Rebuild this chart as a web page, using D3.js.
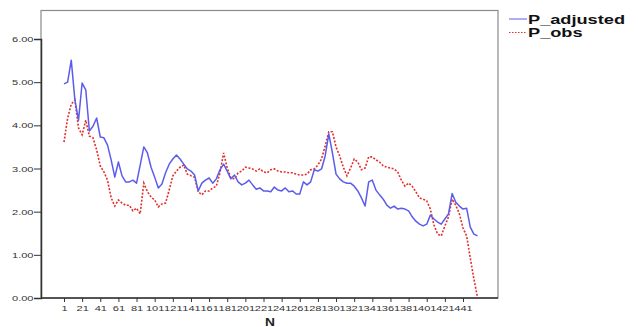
<!DOCTYPE html>
<html>
<head>
<meta charset="utf-8">
<script src="https://cdn.jsdelivr.net/npm/d3@7"></script>
<style>
  body { margin: 0; background: #fff; }
  text { font-family: "Liberation Sans", Arial, sans-serif; }
</style>
</head>
<body>
<div id="chart"></div>
<script>
// case index N, sampled every 4th case
const N = d3.range(1, 458, 4);

const pAdjusted = [
  4.96, 5.00, 5.51, 4.59, 4.12, 4.98, 4.82, 3.87, 3.98, 4.17,
  3.73, 3.71, 3.54, 3.20, 2.80, 3.15, 2.83, 2.69, 2.69, 2.73,
  2.66, 3.08, 3.50, 3.36, 3.03, 2.80, 2.55, 2.64, 2.90, 3.10,
  3.22, 3.31, 3.22, 3.10, 2.99, 2.94, 2.85, 2.48, 2.66, 2.73,
  2.78, 2.66, 2.76, 2.97, 3.10, 2.94, 2.76, 2.85, 2.69, 2.62,
  2.66, 2.73, 2.62, 2.52, 2.55, 2.48, 2.48, 2.46, 2.57, 2.50,
  2.48, 2.55, 2.46, 2.48, 2.41, 2.41, 2.69, 2.62, 2.69, 2.97,
  2.94, 2.99, 3.29, 3.80, 3.36, 2.87, 2.76, 2.69, 2.66, 2.66,
  2.59, 2.48, 2.32, 2.13, 2.69, 2.73, 2.50, 2.39, 2.29, 2.15,
  2.08, 2.13, 2.06, 2.08, 2.06, 2.02, 1.88, 1.78, 1.71, 1.67,
  1.71, 1.92, 1.83, 1.76, 1.71, 1.83, 1.95, 2.42, 2.22, 2.13,
  2.06, 2.08, 1.64, 1.48, 1.44
];

const pObs = [
  3.61, 4.17, 4.49, 4.59, 3.94, 3.78, 4.12, 3.75, 3.71, 3.43,
  3.06, 2.92, 2.73, 2.32, 2.13, 2.27, 2.20, 2.15, 2.15, 2.02,
  2.08, 1.95, 2.66, 2.46, 2.34, 2.27, 2.11, 2.18, 2.20, 2.50,
  2.83, 2.94, 3.03, 3.08, 2.87, 2.83, 2.80, 2.46, 2.39, 2.48,
  2.48, 2.55, 2.59, 2.90, 3.36, 3.01, 2.78, 2.76, 2.90, 2.94,
  3.03, 3.01, 2.99, 2.94, 2.99, 2.92, 2.90, 2.97, 2.99, 2.94,
  2.92, 2.92, 2.90, 2.90, 2.87, 2.85, 2.85, 2.87, 2.97, 2.99,
  3.08, 3.22, 3.52, 3.85, 3.85, 3.50, 3.29, 3.03, 2.83, 3.01,
  3.22, 3.15, 2.97, 3.01, 3.27, 3.27, 3.20, 3.15, 3.06, 3.03,
  3.01, 2.99, 2.92, 2.73, 2.59, 2.66, 2.59, 2.46, 2.32, 2.29,
  2.25, 2.06, 1.69, 1.48, 1.44, 1.67, 1.88, 2.29, 2.15, 1.95,
  1.62, 1.44, 0.93, 0.44, 0.02
];

const xTicks = [1, 21, 41, 61, 81, 101, 121, 141, 161, 181, 201, 221,
  241, 261, 281, 301, 321, 341, 361, 381, 401, 421, 441];
const yTicks = [0, 1, 2, 3, 4, 5, 6];

const seriesNames = ['P_adjusted', 'P_obs'];
const seriesColors = ['#5c5cec', '#e3302c'];

const width = 638;
const height = 327;
const stretch = 1.38; // the original picture is stretched sideways

const svg = d3.select('#chart')
  .append('svg')
  .attr('width', width)
  .attr('height', height);

const x = d3.scaleLinear().domain([1, 441]).range([64, 463]);
const y = d3.scaleLinear().domain([0, 6]).range([298, 39]);

// plot frame
svg.append('rect')
  .attr('x', 41)
  .attr('y', 10.5)
  .attr('width', 457)
  .attr('height', 287.5)
  .attr('fill', 'none')
  .attr('stroke', '#8a8a8a')
  .attr('stroke-width', 1.2);

const yAxis = svg.append('g')
  .attr('transform', 'translate(41,0)')
  .call(d3.axisLeft(y).tickValues(yTicks).tickFormat(d3.format('.2f')).tickSize(7).tickPadding(0));
yAxis.select('.domain').attr('stroke', '#333').attr('stroke-width', 1.5);
yAxis.selectAll('.tick line').attr('stroke', '#333');
yAxis.selectAll('.tick text')
  .attr('font-size', 8)
  .attr('fill', '#333')
  .attr('x', -7.5 / stretch)
  .attr('transform', `scale(${stretch},1)`);

const xAxis = svg.append('g')
  .attr('transform', 'translate(0,298)')
  .call(d3.axisBottom(x).tickValues(xTicks).tickSize(4).tickPadding(3));
xAxis.select('.domain').remove();
xAxis.selectAll('.tick line').attr('stroke', '#333');
xAxis.selectAll('.tick text')
  .attr('font-size', 8)
  .attr('fill', '#333')
  .attr('transform', `scale(${stretch},1)`);

svg.append('line')
  .attr('x1', 41).attr('x2', 498)
  .attr('y1', 298).attr('y2', 298)
  .attr('stroke', '#333')
  .attr('stroke-width', 1.5);

svg.append('text')
  .attr('transform', `translate(270,326) scale(${stretch},1)`)
  .attr('text-anchor', 'middle')
  .attr('font-size', 10)
  .attr('font-weight', 'bold')
  .attr('fill', '#222')
  .text('N');

const line = d3.line()
  .x((d, i) => x(N[i]))
  .y((d) => y(d));

svg.append('path')
  .datum(pObs)
  .attr('fill', 'none')
  .attr('stroke', seriesColors[1])
  .attr('stroke-width', 1.6)
  .attr('stroke-dasharray', '2,1.6')
  .attr('d', line);

svg.append('path')
  .datum(pAdjusted)
  .attr('fill', 'none')
  .attr('stroke', seriesColors[0])
  .attr('stroke-width', 1.5)
  .attr('stroke-linejoin', 'round')
  .attr('d', line);

// legend
const legend = svg.append('g')
  .selectAll('g')
  .data(seriesNames)
  .join('g')
  .attr('transform', (d, i) => `translate(509,${19 + i * 13.5})`);

legend.append('line')
  .attr('x1', 0).attr('x2', 18)
  .attr('stroke', (d, i) => seriesColors[i])
  .attr('stroke-width', 1)
  .attr('stroke-dasharray', (d, i) => (i === 1 ? '1.5,1.5' : null));

legend.append('text')
  .attr('transform', 'translate(19,4.5) scale(1.4,1)')
  .attr('font-size', 13)
  .attr('font-weight', 'bold')
  .attr('fill', '#111')
  .text((d) => d);
</script>
</body>
</html>
